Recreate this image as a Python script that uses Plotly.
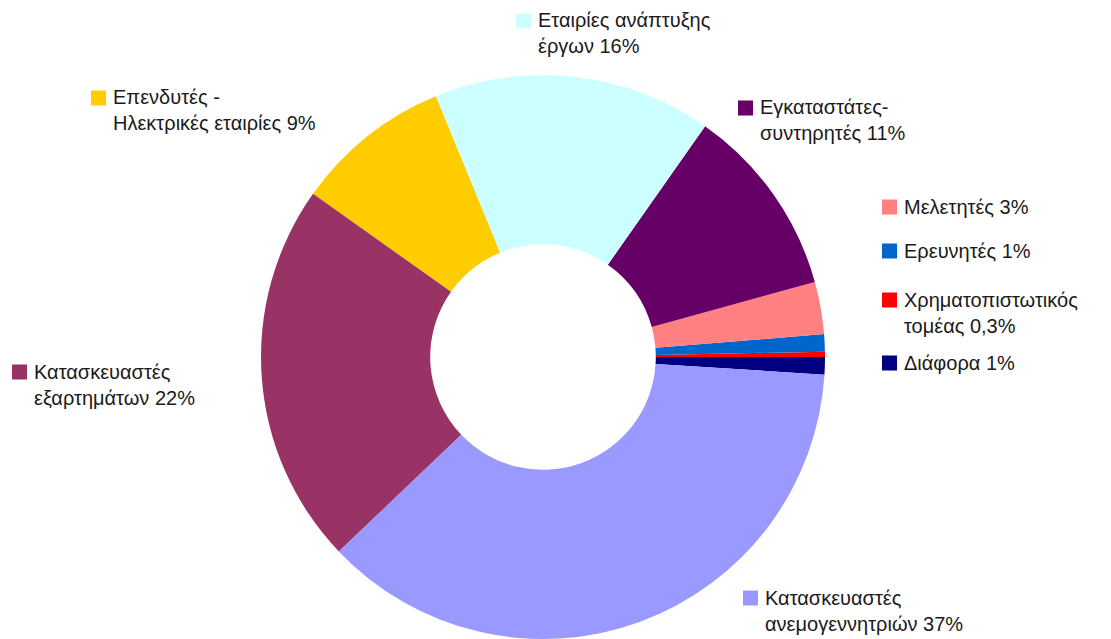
import plotly.graph_objects as go

# Shares of employment in the wind energy sector, by type of activity (%)
categories = [
    "Διάφορα",
    "Χρηματοπιστωτικός τομέας",
    "Ερευνητές",
    "Μελετητές",
    "Εγκαταστάτες-συντηρητές",
    "Εταιρίες ανάπτυξης έργων",
    "Επενδυτές - Ηλεκτρικές εταιρίες",
    "Κατασκευαστές εξαρτημάτων",
    "Κατασκευαστές ανεμογεννητριών",
]
shares = [1, 0.3, 1, 3, 11, 16, 9, 22, 37]
colors = [
    "#000080", "#FF0000", "#0066CC", "#FF8080", "#660066",
    "#CCFFFF", "#FFCC00", "#993366", "#9999FF",
]
# Label names as they wrap next to the ring
wrapped_names = [
    "Διάφορα",
    "Χρηματοπιστωτικός<br>τομέας",
    "Ερευνητές",
    "Μελετητές",
    "Εγκαταστάτες-<br>συντηρητές",
    "Εταιρίες ανάπτυξης<br>έργων",
    "Επενδυτές -<br>Ηλεκτρικές εταιρίες",
    "Κατασκευαστές<br>εξαρτημάτων",
    "Κατασκευαστές<br>ανεμογεννητριών",
]

W, H = 1111, 639
FONT = "Liberation Sans, Arial, sans-serif"

# Label placement in pixels: left edge of key square, vertical centre of the first text line
label_pos = [
    (882, 363),
    (882, 300),
    (882, 251),
    (882, 207),
    (738, 108),
    (516, 21),
    (91, 98),
    (12, 372),
    (743, 598),
]
LINE_GAP = 25
KEY = 15


def fmt(v):
    s = f"{v:g}"
    return s.replace(".", ",")


fig = go.Figure()
fig.add_trace(go.Pie(
    labels=categories,
    values=shares,
    marker=dict(colors=colors, line=dict(width=0)),
    hole=0.4,
    sort=False,
    direction="counterclockwise",
    rotation=90,
    textinfo="none",
    hoverinfo="label+percent",
    showlegend=False,
    domain=dict(x=[(543 - 282) / W, (543 + 282) / W], y=[0, (H - 357 + 282) / H]),
))

annotations = []
shapes = []
for name, v, col, (px, py) in zip(wrapped_names, shares, colors, label_pos):
    text = f"{name} {fmt(v)}%"
    n_lines = text.count("<br>") + 1
    cy = py + (n_lines - 1) * LINE_GAP / 2
    annotations.append(dict(
        x=(px + KEY + 5) / W, y=1 - cy / H, xref="paper", yref="paper",
        xanchor="left", yanchor="middle", align="left",
        text=text, showarrow=False,
        font=dict(family=FONT, size=20, color="#1a1a1a"),
    ))
    shapes.append(dict(
        type="rect", xref="paper", yref="paper",
        x0=px / W, x1=(px + KEY) / W,
        y0=1 - (py + KEY / 2) / H, y1=1 - (py - KEY / 2) / H,
        fillcolor=col, line=dict(width=0),
    ))

fig.update_layout(
    width=W, height=H,
    margin=dict(l=0, r=0, t=0, b=0),
    paper_bgcolor="white", plot_bgcolor="white",
    annotations=annotations, shapes=shapes,
)

fig.write_html("out.html")
